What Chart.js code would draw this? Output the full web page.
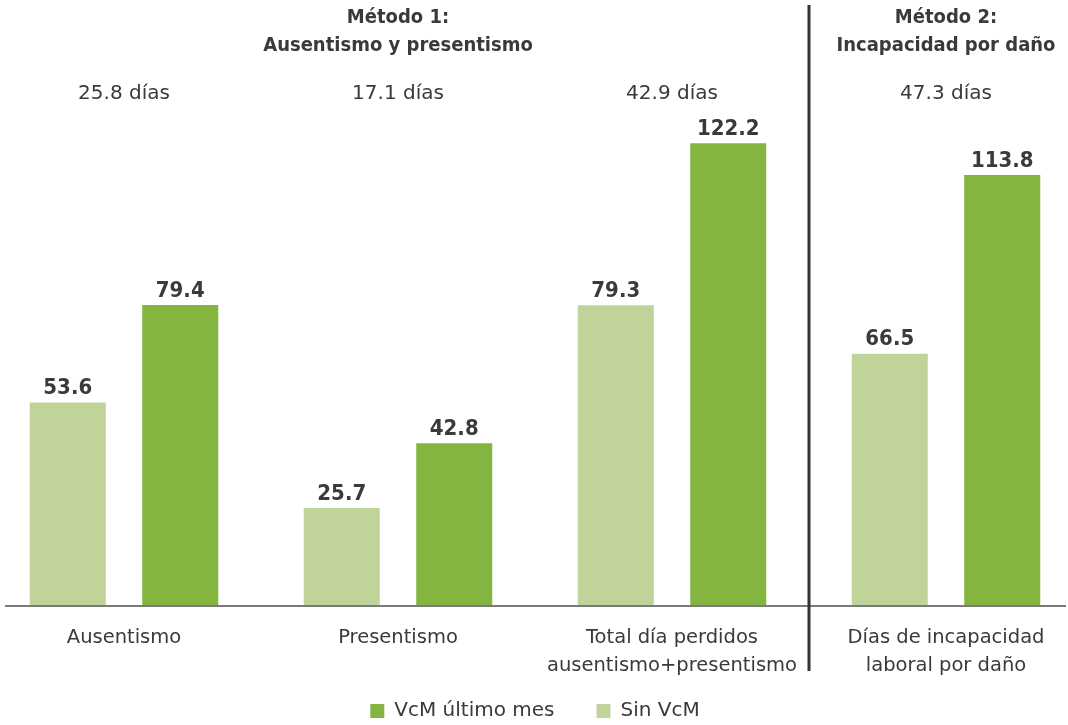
<!DOCTYPE html>
<html>
<head>
<meta charset="utf-8">
<script src="https://cdn.jsdelivr.net/npm/chart.js@4/dist/chart.umd.min.js"></script>
<style>
  html, body { margin: 0; padding: 0; width: 1068px; height: 725px; overflow: hidden; background: #ffffff; }
  #wrap { position: absolute; left: -13px; top: 0; width: 1096px; height: 731px; }
</style>
</head>
<body>
<div id="wrap"><canvas id="c" width="1096" height="731"></canvas></div>
<script>
const categories = [
  ["Ausentismo"],
  ["Presentismo"],
  ["Total día perdidos", "ausentismo+presentismo"],
  ["Días de incapacidad", "laboral por daño"]
];
const sinVcM = [53.6, 25.7, 79.3, 66.5];
const vcmUltimoMes = [79.4, 42.8, 122.2, 113.8];
const diffLabels = ["25.8 días", "17.1 días", "42.9 días", "47.3 días"];
const groupTitles = [["Método 1:", "Ausentismo y presentismo"], ["Método 2:", "Incapacidad por daño"]];
const groupRanges = [[0, 2], [3, 3]];
const seriesNames = ["Sin VcM", "VcM último mes"];

const FONT = "'DejaVu Sans', sans-serif";
const FONT_C = "'DejaVu Sans Condensed', 'DejaVu Sans', sans-serif";
const TEXT = "#3a3a3a";
const LIGHT = "#c0d49a";
const DARK = "#84b541";

const annotate = {
  id: "annotate",
  afterLayout(chart) {
    // let the two-line tick labels extend below the (compact) axis box
    const x = chart.scales.x;
    x.bottom = x.top + 95;
  },
  afterDatasetsDraw(chart) {
    const ctx = chart.ctx;
    const x = chart.scales.x;
    const area = chart.chartArea;
    ctx.save();
    // baseline
    ctx.strokeStyle = "#7a7a7a";
    ctx.lineWidth = 2;
    ctx.beginPath();
    ctx.moveTo(18, area.bottom + 1);
    ctx.lineTo(1079, area.bottom + 1);
    ctx.stroke();
    // divider between groups
    const divX = (x.getPixelForTick(2) + x.getPixelForTick(3)) / 2;
    ctx.strokeStyle = "#333333";
    ctx.lineWidth = 3;
    ctx.beginPath();
    ctx.moveTo(divX, 5);
    ctx.lineTo(divX, 671);
    ctx.stroke();
    // group titles
    ctx.fillStyle = TEXT;
    ctx.textAlign = "center";
    ctx.textBaseline = "middle";
    ctx.font = "bold 20px " + FONT_C;
    groupTitles.forEach((lines, g) => {
      const [a, b] = groupRanges[g];
      const cx = (x.getPixelForTick(a) + x.getPixelForTick(b)) / 2;
      lines.forEach((t, i) => ctx.fillText(t, cx, 18 + i * 28));
    });
    // difference labels
    ctx.font = "20px " + FONT;
    diffLabels.forEach((t, i) => ctx.fillText(t, x.getPixelForTick(i), 94));
    // value labels
    ctx.font = "bold 22px " + FONT_C;
    ctx.textBaseline = "bottom";
    chart.data.datasets.forEach((ds, di) => {
      const meta = chart.getDatasetMeta(di);
      meta.data.forEach((bar, i) => {
        ctx.fillText(ds.data[i].toFixed(1), bar.x, bar.y - 3);
      });
    });
    ctx.restore();
  }
};

new Chart(document.getElementById("c"), {
  type: "bar",
  data: {
    labels: categories,
    datasets: [
      { label: seriesNames[0], data: sinVcM, backgroundColor: LIGHT, barPercentage: 0.676, categoryPercentage: 0.821 },
      { label: seriesNames[1], data: vcmUltimoMes, backgroundColor: DARK, barPercentage: 0.676, categoryPercentage: 0.821 }
    ]
  },
  options: {
    responsive: false,
    devicePixelRatio: 1,
    animation: false,
    layout: { padding: { top: 76, left: 0, right: 0, bottom: 0 } },
    plugins: {
      legend: {
        position: "bottom",
        reverse: true,
        labels: {
          boxWidth: 14,
          boxHeight: 14,
          padding: 42,
          color: TEXT,
          font: { family: FONT, size: 20 }
        }
      },
      tooltip: { enabled: false }
    },
    scales: {
      x: {
        grid: { display: false, drawTicks: false },
        border: { display: false },
        ticks: {
          color: TEXT,
          padding: 19,
          maxRotation: 0,
          autoSkip: false,
          font: { family: FONT, size: 19.5, lineHeight: "28px" }
        },
        afterFit(scale) { scale.height = 54; }
      },
      y: {
        display: false,
        min: 0,
        max: 140
      }
    }
  },
  plugins: [annotate]
});
</script>
</body>
</html>
